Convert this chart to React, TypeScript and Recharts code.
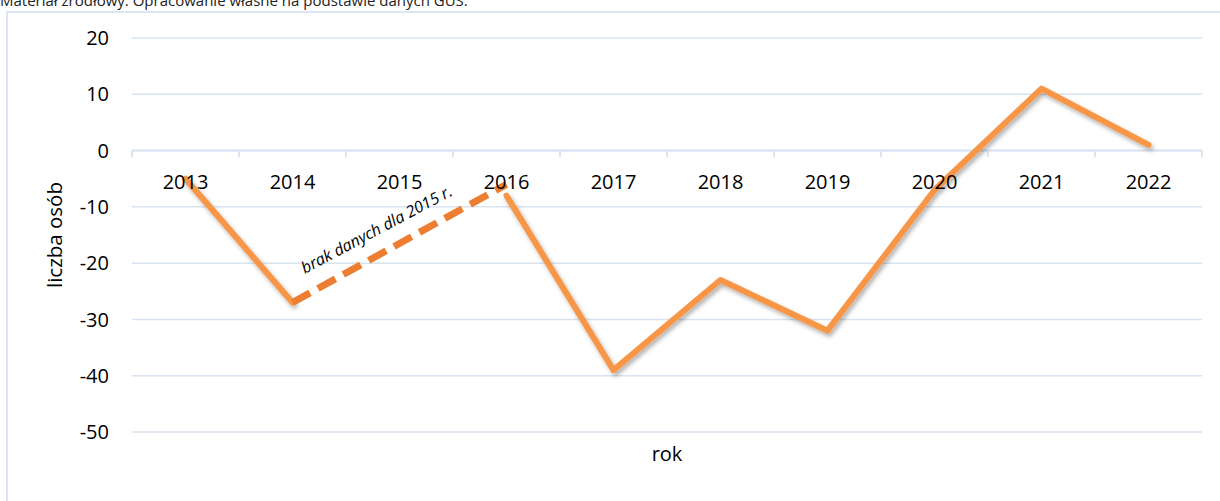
import React from 'react';
import { LineChart, Line, XAxis, YAxis, CartesianGrid, ReferenceLine, ReferenceDot } from 'recharts';

const years = ['2013', '2014', '2015', '2016', '2017', '2018', '2019', '2020', '2021', '2022'];
const values: (number | null)[] = [-5, -27, null, -8, -39, -23, -32, -7, 11, 1];
const missingBridge: (number | null)[] = [null, -27, null, -6, null, null, null, null, null, null];
const yTicks = [-50, -40, -30, -20, -10, 0, 10, 20];
const noteText = 'brak danych dla 2015 r.';
const sourceText = 'Materiał źródłowy: Opracowanie własne na podstawie danych GUS.';
const yLabel = 'liczba osób';
const xLabel = 'rok';

const data = years.map((year, i) => ({ idx: i, year, value: values[i], bridge: missingBridge[i] }));
const xTicks = years.map((_, i) => i);
const boundaries = years.map((_, i) => i - 0.5).concat([years.length - 0.5]);

const FONT = '"Open Sans", "DejaVu Sans", sans-serif';
const GRID = '#D9E3F1';

const XTick = (props: any) => (
  <text
    x={props.x}
    y={props.y}
    dy={-243}
    textAnchor="middle"
    fill="#000"
    fontSize={20}
    fontFamily={FONT}
  >
    {years[props.payload.value]}
  </text>
);

export default function App() {
  return (
    <div style={{ position: 'absolute', left: 0, top: 0, width: 1220, height: 501, overflow: 'hidden', background: '#fff', fontFamily: FONT }}>
      <div style={{ position: 'absolute', left: 0, top: -10, fontSize: 15, lineHeight: 'normal', color: '#222', whiteSpace: 'nowrap' }}>
        {sourceText}
      </div>
      <div style={{ position: 'absolute', left: 6, top: 11, width: 1240, height: 540, border: '2px solid #DCE6F2', boxSizing: 'border-box' }} />
      <div style={{ position: 'absolute', left: 0, top: 0 }}>
        <LineChart width={1220} height={501} data={data} margin={{ top: 38, right: 18, bottom: 39, left: 0 }}>
          <defs>
            <filter id="lineShadow" x="-10%" y="-10%" width="120%" height="120%">
              <feDropShadow dx="2" dy="3" stdDeviation="2" floodColor="#000" floodOpacity="0.3" />
            </filter>
          </defs>
          <CartesianGrid vertical={false} stroke={GRID} strokeWidth={1.5} />
          <XAxis
            dataKey="idx"
            type="number"
            domain={[-0.5, years.length - 0.5]}
            ticks={xTicks}
            allowDataOverflow
            axisLine={false}
            tickLine={false}
            tickSize={0}
            tickMargin={0}
            height={30}
            tick={<XTick />}
            interval={0}
            label={{ value: xLabel, position: 'insideTop', offset: 15, fill: '#000', fontSize: 20, fontFamily: FONT }}
          />
          <YAxis
            domain={[-50, 20]}
            ticks={yTicks}
            width={132}
            axisLine={false}
            tickLine={false}
            tickSize={0}
            tickMargin={23}
            interval={0}
            tick={{ fill: '#000', fontSize: 20, fontFamily: FONT }}
            label={{ value: yLabel, angle: -90, position: 'center', dx: -11, fill: '#000', fontSize: 20.5, fontFamily: FONT }}
          />
          <ReferenceLine y={0} stroke={GRID} strokeWidth={2} />
          {boundaries.map((b) => (
            <ReferenceLine
              key={b}
              segment={[{ x: b, y: 0 }, { x: b, y: -1.1 }]}
              stroke={GRID}
              strokeWidth={2}
            />
          ))}
          <Line
            dataKey="value"
            stroke="#F79646"
            strokeWidth={6}
            dot={false}
            activeDot={false}
            connectNulls={false}
            strokeLinejoin="round"
            strokeLinecap="round"
            filter="url(#lineShadow)"
            isAnimationActive={false}
          />
          <Line
            dataKey="bridge"
            stroke="#ED7D31"
            strokeWidth={7}
            strokeDasharray="20 9"
            dot={false}
            activeDot={false}
            connectNulls
            isAnimationActive={false}
          />
          <ReferenceDot
            x={2}
            y={-14}
            r={0}
            fill="none"
            stroke="none"
            label={{ value: noteText, position: 'center', angle: -28, dx: -23, fill: '#000', fontSize: 16, fontStyle: 'italic', fontFamily: FONT }}
          />
        </LineChart>
      </div>
    </div>
  );
}
